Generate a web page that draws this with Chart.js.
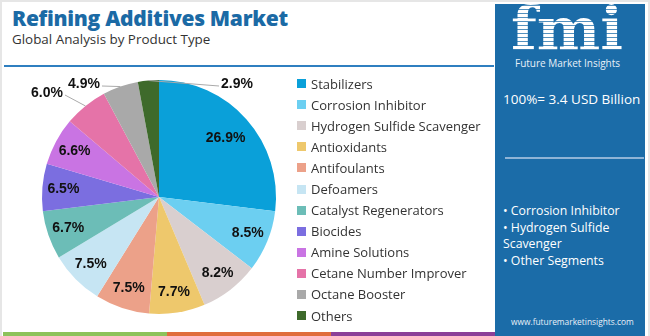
<!DOCTYPE html>
<html><head><meta charset="utf-8">
<script src="https://cdn.jsdelivr.net/npm/chart.js@4/dist/chart.umd.min.js"></script>
<style>
html,body{margin:0;padding:0;}
body{width:650px;height:336px;position:relative;overflow:hidden;background:#fff;font-family:"Open Sans","Noto Sans",sans-serif;}
#frame{position:absolute;left:0;top:0;width:646px;height:336px;border:2px solid #e6e6e6;border-bottom:none;box-sizing:content-box;}
#title{position:absolute;left:12px;top:4px;font-size:21px;font-weight:800;color:#1b6aa5;letter-spacing:-0.3px;}
#sub{position:absolute;left:12px;top:30px;font-size:13.4px;color:#333;}
#rule{position:absolute;left:4px;top:65px;width:490px;height:2px;background:#2f7fc0;}
#strips{position:absolute;left:3px;top:332px;width:492px;height:4px;display:flex;}
#strips div{flex:1;}
#chartbox{position:absolute;left:0;top:66px;width:300px;height:268px;}
#legend{position:absolute;left:297px;top:73px;}
.li{display:flex;align-items:center;height:21.1px;font-size:13px;color:#333;white-space:nowrap;}
.sw{width:9px;height:9px;margin-right:5px;}
#panel{position:absolute;left:495px;top:4px;width:150px;height:332px;background:#1b6ca8;color:#fff;}
#logo{position:absolute;left:16px;top:-10px;font-family:"DejaVu Serif",serif;font-weight:bold;font-size:60px;letter-spacing:0px;
 background:repeating-linear-gradient(#fff 0 3px, rgba(255,255,255,0.25) 3px 4px);-webkit-background-clip:text;background-clip:text;color:transparent;}
#logosub{position:absolute;left:20px;top:52px;font-size:10px;color:#e8f0f8;}
#total{position:absolute;left:8px;top:86px;font-size:13.5px;}
#hr{position:absolute;left:10px;top:153px;width:139px;height:2px;background:#8fb4d6;}
#bul{position:absolute;left:8px;top:199px;font-size:12.3px;line-height:16.6px;}
#url{position:absolute;left:16px;top:312px;font-size:8.4px;color:#e8f0f8;}
</style></head>
<body>
<div id="frame"></div>
<div id="title">Refining Additives Market</div>
<div id="sub">Global Analysis by Product Type</div>
<div id="rule"></div>
<div id="chartbox"><canvas id="c"></canvas></div>
<div id="legend"></div>
<div id="strips"><div style="background:#8dc25a"></div><div style="background:#e06d3c"></div><div style="background:#8b3f98"></div></div>
<div id="panel">
 <div id="logo">fmi</div>
 <div id="logosub">Future Market Insights</div>
 <div id="total">100%= 3.4 USD Billion</div>
 <div id="hr"></div>
 <div id="bul">• Corrosion Inhibitor<br>• Hydrogen Sulfide<br>Scavenger<br>• Other Segments</div>
 <div id="url">www.futuremarketinsights.com</div>
</div>
<script>
const categories = ["Stabilizers","Corrosion Inhibitor","Hydrogen Sulfide Scavenger","Antioxidants","Antifoulants","Defoamers","Catalyst Regenerators","Biocides","Amine Solutions","Cetane Number Improver","Octane Booster","Others"];
const shares = [26.9, 8.5, 8.2, 7.7, 7.5, 7.5, 6.7, 6.5, 6.6, 6.0, 4.9, 2.9];
const colors = ["#0aa0d9","#6ccff1","#d9cfcf","#eec86c","#eca189","#c6e5f3","#6cbdb7","#7b6ee0","#c974e3","#e573a8","#a9a9a9","#3e6a2b"];

const leg = document.getElementById('legend');
categories.forEach((c,i)=>{
  const d=document.createElement('div');d.className='li';
  d.innerHTML='<span class="sw" style="background:'+colors[i]+'"></span>'+c;
  leg.appendChild(d);
});

// label placement styling: outside labels (offset of text centre from pie centre)
const outside = {9:{dx:-112,dy:-104}, 10:{dx:-75,dy:-113}, 11:{dx:78,dy:-113}};
const labelPlugin = {
  id:'sliceLabels',
  afterDatasetsDraw(chart){
    const ctx=chart.ctx, meta=chart.getDatasetMeta(0);
    ctx.save();
    ctx.font='bold 14px "Liberation Sans", Arial, sans-serif';
    ctx.fillStyle='#111';
    ctx.textBaseline='middle';ctx.textAlign='center';
    meta.data.forEach((arc,i)=>{
      const p=arc.getProps(['x','y','startAngle','endAngle','outerRadius'],true);
      const mid=(p.startAngle+p.endAngle)/2;
      const txt=shares[i].toFixed(1)+'%';
      const o=outside[i];
      if(!o){
        const f = i===0?0.76:0.82;
        ctx.fillText(txt,p.x+Math.cos(mid)*p.outerRadius*f,p.y+Math.sin(mid)*p.outerRadius*f);
      } else {
        const tx=p.x+o.dx, ty=p.y+o.dy;
        const w=ctx.measureText(txt).width;
        const ax=p.x+Math.cos(mid)*p.outerRadius, ay=p.y+Math.sin(mid)*p.outerRadius;
        const ex = ax<tx ? tx-w/2-2 : tx+w/2+2;
        ctx.strokeStyle='#aaa';ctx.lineWidth=1;
        ctx.beginPath();ctx.moveTo(ax,ay);ctx.lineTo(ex,ty+2);ctx.stroke();
        ctx.fillText(txt,tx,ty);
      }
    });
    ctx.restore();
  }
};

new Chart(document.getElementById('c'),{
  type:'pie',
  data:{labels:categories,datasets:[{data:shares,backgroundColor:colors,borderColor:'#fff',borderWidth:0}]},
  options:{
    responsive:true,maintainAspectRatio:false,animation:false,
    layout:{padding:{left:42,right:24,top:14,bottom:20}},
    plugins:{legend:{display:false},tooltip:{enabled:false}}
  },
  plugins:[labelPlugin]
});
</script>
</body></html>
